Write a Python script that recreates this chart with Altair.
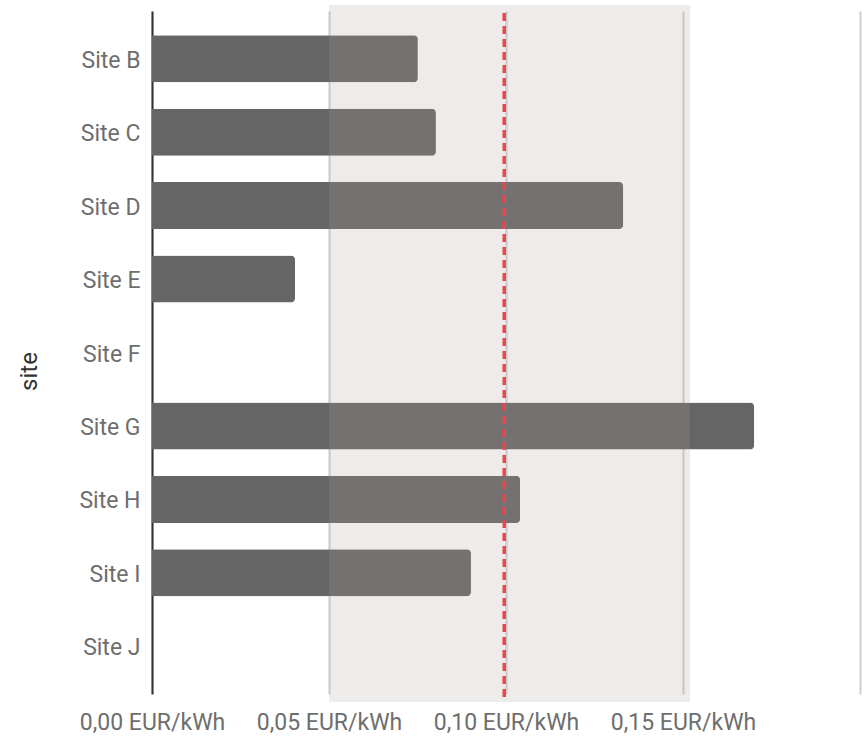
import altair as alt
import pandas as pd

# Per-site price values (EUR/kWh); sites without a value stay empty rows
sites = ["Site B", "Site C", "Site D", "Site E", "Site F", "Site G", "Site H", "Site I", "Site J"]
prices = [0.0751, 0.0802, 0.1331, 0.0404, None, 0.1701, 0.1040, 0.0901, None]

# Target price range (shaded) and reference price (dashed red line)
range_start = [0.05]
range_end = [0.152]
reference_price = [0.0995]

W, H = 708, 683

bars_df = pd.DataFrame({"site": sites, "price": prices})
band_df = pd.DataFrame({"start": range_start, "end": range_end})
ref_df = pd.DataFrame({"ref": reference_price})

x_scale = alt.Scale(domain=[0, 0.2], nice=False)
label_expr = ("datum.value >= 0.2 ? '' : "
              "replace(format(datum.value, '.2f'), '.', ',') + ' EUR/kWh'")

bars = alt.Chart(bars_df).mark_bar(color="#656565", cornerRadiusEnd=4).encode(
    x=alt.X("price:Q", scale=x_scale,
            axis=alt.Axis(title=None, values=[0, 0.05, 0.1, 0.15, 0.2],
                          labelExpr=label_expr, grid=True, domain=False,
                          ticks=False, labelPadding=17, labelFontSize=23,
                          labelOverlap=False, labelFlush=False, labelBound=False,
                          labelColor="#6e6e6e", gridColor="#d0d0d0",
                          gridWidth=2)),
    y=alt.Y("site:N", sort=sites,
            scale=alt.Scale(domain=sites, paddingInner=0.36, paddingOuter=0.33),
            axis=alt.Axis(title="site", ticks=False, grid=False,
                          domainColor="#333333", domainWidth=2,
                          labelPadding=12, labelFontSize=23, labelOffset=2,
                          labelColor="#6e6e6e", titleFontSize=24,
                          titleFontWeight="normal", titleColor="#333333",
                          titleX=-123, titleY=360, titleAngle=270,
                          titleAlign="center", titleBaseline="middle")),
)

band = alt.Chart(band_df).mark_rect(color="#aaa49b", opacity=0.21).encode(
    x=alt.X("start:Q", scale=x_scale),
    x2="end:Q",
    y=alt.value(-6),
    y2=alt.value(H + 8),
)

ref = alt.Chart(ref_df).mark_rule(color="#ea474d", strokeWidth=3.5,
                                  strokeDash=[8, 5]).encode(
    x=alt.X("ref:Q", scale=x_scale),
    y=alt.value(2),
    y2=alt.value(H + 7),
)

chart = alt.layer(bars, band, ref).properties(
    width=W,
    height=H,
    autosize=alt.AutoSizeParams(type="none"),
    padding={"left": 152, "top": 11, "right": 5, "bottom": 42},
).configure(font="Roboto").configure_view(stroke=None)

chart.save("out.html", embed_options={"renderer": "svg", "actions": False})
